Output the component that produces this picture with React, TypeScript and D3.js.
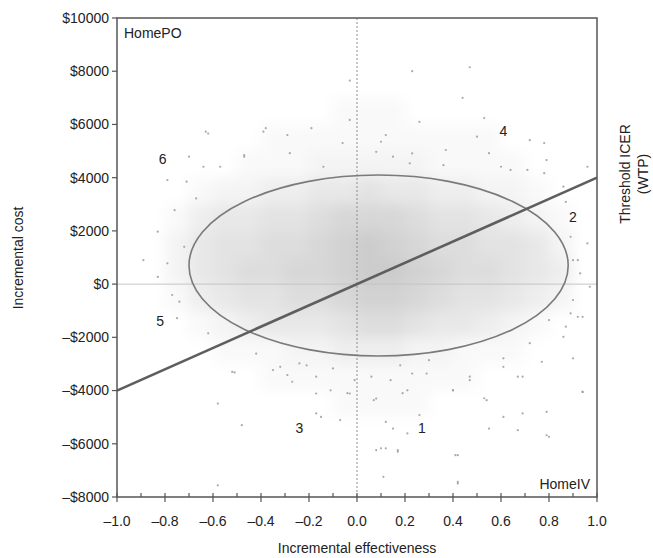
import React, { useEffect, useRef } from 'react';
import * as d3 from 'd3';

// cost-effectiveness plane, HomePO vs HomeIV
const xTicks = [-1.0, -0.8, -0.6, -0.4, -0.2, 0.0, 0.2, 0.4, 0.6, 0.8, 1.0];
const yTicks = [10000, 8000, 6000, 4000, 2000, 0, -2000, -4000, -6000, -8000];
const wtpLine = [[-1, -4000], [1, 4000]];
// 95% ellipse: centre effect, centre cost, half-width, half-height
const ellipse = [0.09, 700, 0.79, 3400];

const quadrantLabels = [
  { t: '1', x: 0.27, y: -5400 },
  { t: '2', x: 0.9, y: 2500 },
  { t: '3', x: -0.24, y: -5400 },
  { t: '4', x: 0.61, y: 5750 },
  { t: '5', x: -0.82, y: -1400 },
  { t: '6', x: -0.81, y: 4700 },
];

// estimated density of the bootstrap cloud (0-9), columns -0.95..0.95 by 0.1
const densityRows = [6500, 5500, 4500, 3500, 2500, 1500, 500, -500, -1500, -2500, -3500, -4500];
const densityGrid = [
  '00000000011100000000',
  '00000011111111110000',
  '00000111222221111000',
  '00012233445443322100',
  '00134455677765543210',
  '00245566789876655420',
  '00245667789987665430',
  '00134556678876554320',
  '00012344456654432100',
  '00001112233322111000',
  '00000011111111100000',
  '00000000011110000000',
];

// scattered replicates outside the dense core
const outliers = [
  [0.23, 8000], [0.47, 8150], [-0.03, 7650], [0.44, 7000], [0.53, 6240], [-0.38, 5860],
  [-0.63, 5730], [-0.19, 5860], [-0.03, 6170], [0.26, 6100], [0.12, 5600], [0.78, 5300],
  [0.5, 5540], [-0.7, 4790], [-0.47, 4850], [-0.28, 4920], [-0.14, 4410], [0.08, 4970],
  [0.22, 4540], [0.36, 4470], [0.6, 4410], [0.96, 4410], [-0.57, 4410], [0.71, 4290],
  [-0.06, 5300], [0.15, 4790], [-0.51, -3320], [-0.58, -4490], [-0.48, -5300], [-0.35, -3230],
  [-0.27, -3670], [-0.17, -4110], [-0.04, -4100], [-0.07, -5110], [-0.17, -4860], [-0.58, -7560],
  [0.08, -4300], [0.12, -5180], [0.08, -6240], [0.12, -6170], [0.17, -6300], [0.11, -7240],
  [0.15, -5430], [0.19, -4100], [0.26, -4920], [0.21, -5610], [0.4, -3990], [0.41, -6430],
  [0.42, -7490], [0.53, -4290], [0.55, -5430], [0.69, -4860], [0.79, -4800], [0.8, -5740],
  [0.94, -4050], [0.69, -3480], [0.47, -3480], [0.29, -3360], [0.61, -3110], [-0.29, -3420],
  [-0.21, -3050], [-0.1, -3170], [0.06, -3480], [-0.01, -3610], [0.18, -3050],
  [-0.75, -1280], [-0.62, -1850], [-0.52, -3300], [-0.32, -3110], [-0.42, -2610], [-0.24, -2980],
  [-0.17, -3480], [-0.11, -3990], [-0.15, -4990],
  [-0.79, 3910], [-0.71, 3850], [-0.83, 1970], [-0.79, 780], [-0.77, -410], [-0.74, -660],
  [-0.62, 5660], [-0.39, 5730], [-0.29, 5600], [-0.47, 4790], [-0.67, 3220], [-0.72, 1400],
  [-0.76, 2780], [-0.83, 270], [-0.89, 900], [-0.64, 4410],
  [0.8, -1350], [0.92, -1230], [0.86, -1980], [0.72, -2220], [0.61, -2790], [0.77, -2920],
  [0.9, -2790], [0.47, -3610], [0.4, -3990], [0.67, -3480], [0.54, -4360], [0.61, -4990],
  [0.94, -4050], [0.67, -5490], [0.79, -5680], [0.42, -6430], [0.3, -2860], [0.23, -3360],
  [0.14, -3610], [0.07, -4360], [0.21, -3990], [0.17, -6240], [0.1, -6170], [0.42, -7430],
  [-0.03, -4110],
  [0.78, 4170], [0.86, 3660], [0.87, 3090], [0.9, 900], [0.72, 5410], [0.55, 4920],
  [0.37, 5040], [0.23, 4910], [0.1, 5350], [0.64, 4290], [0.79, 4660], [0.89, -1100],
  [0.89, 1780], [0.92, 900], [0.9, -600], [0.94, -1230], [0.87, -1600], [0.93, 400],
  [0.97, -100], [0.96, 1530],
];

const W = 653;
const H = 558;
const margin = { top: 18, right: 56, bottom: 61, left: 117 };
const FONT = '"Liberation Sans", Arial, sans-serif';

export default function App() {
  const ref = useRef<SVGSVGElement>(null);

  useEffect(() => {
    const svg = d3.select(ref.current);
    svg.selectAll('*').remove();

    const x = d3.scaleLinear().domain([-1, 1]).range([margin.left, W - margin.right]);
    const y = d3.scaleLinear().domain([-8000, 10000]).range([H - margin.bottom, margin.top]);
    const [x0, x1] = x.range();
    const [y0, y1] = [y(10000), y(-8000)];

    const defs = svg.append('defs');
    defs.append('clipPath').attr('id', 'plotClip')
      .append('rect').attr('x', x0).attr('y', y0).attr('width', x1 - x0).attr('height', y1 - y0);
    defs.append('filter').attr('id', 'soft')
      .attr('filterUnits', 'userSpaceOnUse')
      .attr('x', x0 - 40).attr('y', y0 - 40).attr('width', x1 - x0 + 80).attr('height', y1 - y0 + 80)
      .append('feGaussianBlur').attr('stdDeviation', 7);

    const plot = svg.append('g').attr('clip-path', 'url(#plotClip)');

    // cloud of replicates
    const cells: { c: number; r: number; v: number }[] = [];
    densityGrid.forEach((row, r) => row.split('').forEach((ch, c) => {
      const v = +ch;
      if (v > 0) cells.push({ c, r, v });
    }));
    plot.append('g').attr('filter', 'url(#soft)')
      .selectAll('rect').data(cells).enter().append('rect')
      .attr('x', (d) => x(-1 + d.c * 0.1))
      .attr('y', (d) => y(densityRows[d.r] + 500))
      .attr('width', x(0.1) - x(0))
      .attr('height', y(0) - y(1000))
      .attr('fill', '#000')
      .attr('fill-opacity', (d) => (d.v / 9) * 0.2);

    plot.append('g').selectAll('circle').data(outliers).enter().append('circle')
      .attr('cx', (d) => x(d[0]))
      .attr('cy', (d) => y(d[1]))
      .attr('r', 1.1)
      .attr('fill', '#9a9a9a')
      .attr('fill-opacity', 0.85);

    // reference lines through origin
    plot.append('line')
      .attr('x1', x0).attr('x2', x1).attr('y1', y(0)).attr('y2', y(0))
      .attr('stroke', '#c4c4c4').attr('stroke-width', 1);
    plot.append('line')
      .attr('x1', x(0)).attr('x2', x(0)).attr('y1', y0).attr('y2', y1)
      .attr('stroke', '#8c8c8c').attr('stroke-width', 1).attr('stroke-dasharray', '2,2');

    // ellipse
    const [ecx, ecy, erx, ery] = ellipse;
    plot.append('ellipse')
      .attr('cx', x(ecx)).attr('cy', y(ecy))
      .attr('rx', x(erx) - x(0)).attr('ry', y(0) - y(ery))
      .attr('fill', 'none').attr('stroke', '#7a7a7a').attr('stroke-width', 1.6);

    // threshold ICER line
    plot.append('path')
      .attr('d', d3.line<number[]>().x((d) => x(d[0])).y((d) => y(d[1]))(wtpLine))
      .attr('fill', 'none').attr('stroke', '#5e5e5e').attr('stroke-width', 2.6);

    // frame
    svg.append('rect')
      .attr('x', x0).attr('y', y0).attr('width', x1 - x0).attr('height', y1 - y0)
      .attr('fill', 'none').attr('stroke', '#555').attr('stroke-width', 1.5);

    // y axis ticks + labels
    const fmtCost = (v: number) => (v < 0 ? '\u2013$' + Math.abs(v) : '$' + v);
    const yAxis = svg.append('g');
    yTicks.forEach((t) => {
      yAxis.append('line').attr('x1', x0 - 5).attr('x2', x0).attr('y1', y(t)).attr('y2', y(t))
        .attr('stroke', '#555').attr('stroke-width', 1.2);
      yAxis.append('text').attr('x', x0 - 8).attr('y', y(t)).attr('dy', '0.35em')
        .attr('text-anchor', 'end').text(fmtCost(t));
    });

    // x axis ticks + labels
    const xAxis = svg.append('g');
    d3.range(-10, 11).forEach((i) => {
      const v = i / 10;
      const major = i % 2 === 0;
      xAxis.append('line').attr('x1', x(v)).attr('x2', x(v))
        .attr('y1', y1 - 4).attr('y2', major ? y1 + 5 : y1)
        .attr('stroke', '#555').attr('stroke-width', 1.2);
    });
    xTicks.forEach((t) => {
      xAxis.append('text').attr('x', x(t)).attr('y', y1 + 24).attr('dy', '0.35em')
        .attr('text-anchor', 'middle').text(t < 0 ? '\u2013' + Math.abs(t).toFixed(1) : t.toFixed(1));
    });

    svg.selectAll('text').attr('font-family', FONT).attr('font-size', 14).attr('fill', '#222');

    const label = (txt: string, lx: number, ly: number, anchor = 'middle', rot = 0) =>
      svg.append('text')
        .attr('transform', `translate(${lx},${ly}) rotate(${rot})`)
        .attr('text-anchor', anchor).attr('dy', '0.35em')
        .attr('font-family', FONT).attr('font-size', 14).attr('fill', '#222')
        .text(txt);

    quadrantLabels.forEach((q) => label(q.t, x(q.x), y(q.y)));
    label('HomePO', x0 + 7, y0 + 15, 'start');
    label('HomeIV', x1 - 7, y1 - 13, 'end');
    label('Incremental effectiveness', (x0 + x1) / 2, 548);
    label('Incremental cost', 18, 258, 'middle', -90);
    label('Threshold ICER', 625, 174, 'middle', -90);
    label('(WTP)', 643, 174, 'middle', -90);
  }, []);

  return (
    <svg ref={ref} width={W} height={H}
      style={{ position: 'absolute', left: 0, top: 0, background: '#fff' }} />
  );
}
